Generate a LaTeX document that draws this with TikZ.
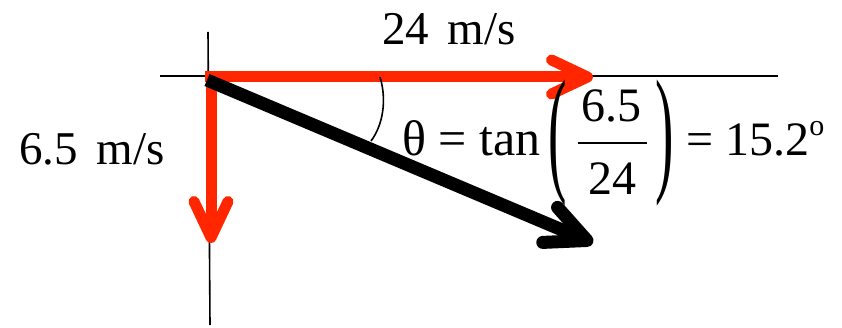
\documentclass[tikz,border=0pt]{standalone}
\usepackage{fontspec}
\setmainfont{Liberation Serif}
\usetikzlibrary{arrows.meta}
\definecolor{vred}{RGB}{255,38,0}

\begin{document}
\begin{tikzpicture}[
x=1pt, y=-1pt,
lbl/.style={inner sep=0pt, anchor=base west, font=\fontsize{47}{56}\selectfont},
eq/.style={inner sep=0pt, font=\fontsize{48}{58}\selectfont},
axis/.style={line width=1.6pt},
vec/.style={line width=11pt, draw=vred, -{Straight Barb[length=36pt, width=34pt, round]}},
res/.style={line width=13pt, -{Straight Barb[length=40pt, width=38pt, round]}}
]
\useasboundingbox (0,0) rectangle (842,328);
\coordinate (xl) at (160,76);
\coordinate (xr) at (778,76);
\coordinate (yt) at (208,32);
\coordinate (yb) at (210,325);
\coordinate (oh) at (205,77);
\coordinate (ov) at (211,72);
\coordinate (ob) at (207,80);
\coordinate (vx) at (593,77);
\coordinate (vy) at (211,243);
\coordinate (vr) at (593,243);
\draw[axis] (xl) -- (xr);
\draw[axis] (yt) -- (yb);
\draw[vec] (oh) -- (vx);
\draw[vec] (ov) -- (vy);
\draw[res] (ob) -- (vr);
\draw[axis] (380,77) .. controls (387,100) and (383,125) .. (371,141);
\node[lbl] (lx) at (382,45) {24\hspace{0.4em}m/s};
\node[lbl] (ly) at (19,165) {6.5\hspace{0.4em}m/s};
\node[eq, anchor=base west, font=\fontsize{50}{60}\selectfont] (th) at (402,156) {θ = tan};
\node[eq] (lp) at (558,143.5) {\scalebox{1.15}[2.9]{(}};
\node[eq, anchor=base] (num) at (611,122) {6.5};
\node[eq, anchor=base] (den) at (612,195) {24};
\draw[line width=1.8pt] (578,143) -- (647,143);
\node[eq] (rp) at (665,143.5) {\scalebox{1.15}[2.9]{)}};
\node[eq, anchor=base west] (ans) at (686,156) {= 15.2\raisebox{20pt}{\fontsize{30}{30}\selectfont o}};
\end{tikzpicture}
\end{document}
